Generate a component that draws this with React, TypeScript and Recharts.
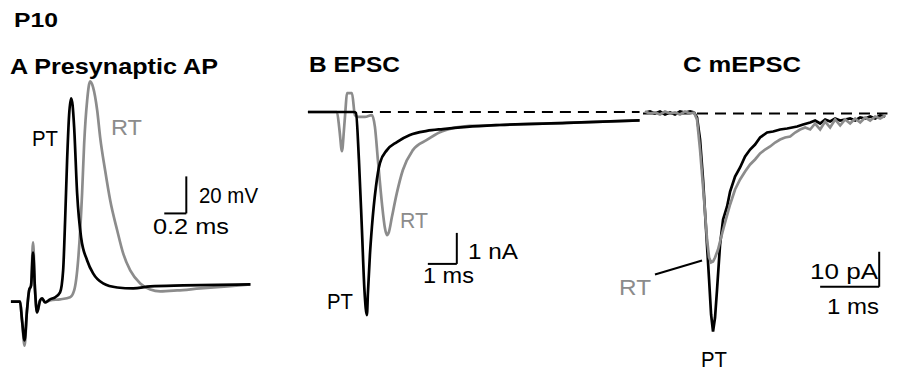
import { LineChart, Line, XAxis, YAxis, ReferenceLine } from 'recharts';

// Panel A: presynaptic AP, time in ms, membrane potential in mV
const apPT = [
  [-0.01, -60.6], [0.073, -60.6], [0.091, -70.8], [0.114, -81.6], [0.136, -65.4], [0.155, -54.6],
  [0.173, -51.9], [0.191, -34.1], [0.209, -54.6], [0.227, -66.5], [0.255, -60], [0.273, -58.9],
  [0.3, -61.1], [0.345, -59.4], [0.391, -58.3], [0.436, -55.7], [0.464, -43.8], [0.482, -16.7],
  [0.5, 15.6], [0.518, 40.0], [0.536, 49.2], [0.55, 45.4], [0.564, 33.5], [0.591, -2.2],
  [0.627, -26.0], [0.682, -38.4], [0.736, -45.4], [0.827, -50.8], [0.955, -53.0], [1.1, -53.5],
  [1.255, -52.4], [1.555, -51.9], [2.164, -51.3],
];
const apRT = [
  [-0.01, -60.6], [0.073, -60.6], [0.091, -70.8], [0.114, -84.4], [0.136, -65.4], [0.155, -54.6],
  [0.173, -51.9], [0.191, -28.6], [0.209, -54.6], [0.227, -66.5], [0.255, -60], [0.273, -58.9],
  [0.3, -61.1], [0.345, -60], [0.436, -59.4], [0.527, -58.3], [0.564, -54.6], [0.6, -38.4],
  [0.636, -2.2], [0.655, 24.9], [0.682, 48.1], [0.709, 58.3], [0.736, 55.1], [0.773, 42.7],
  [0.8, 28.1], [0.845, 10.3], [0.891, -5.9], [0.955, -22.2], [1.009, -34.6], [1.073, -43.8],
  [1.164, -50.8], [1.255, -54.1], [1.345, -55.1], [1.5, -54.6], [1.709, -53.5], [1.955, -52.4],
  [2.164, -51.3],
];

// Panel B: EPSC, time in ms, current in nA
const epscPT = [
  [0.103, 0], [1.69, 0], [1.759, -0.03], [1.862, -1.55], [1.966, -3.81], [2.052, -5.74],
  [2.138, -6.55], [2.172, -5.84], [2.241, -4.61], [2.31, -3.71], [2.448, -2.42], [2.586, -1.65],
  [2.828, -1.23], [3.172, -0.97], [3.621, -0.74], [4.207, -0.61], [4.759, -0.55], [5.586, -0.48],
  [6.724, -0.42], [9.034, -0.35], [11.552, -0.27],
];
const epscRT = [
  [0.103, 0], [1.103, 0], [1.19, -0.58], [1.276, -1.26], [1.345, -0.58], [1.397, 0.06],
  [1.448, 0.61], [1.621, 0.61], [1.724, -0.1], [1.828, -0.16], [2.069, -0.16], [2.31, -0.1],
  [2.414, -0.48], [2.517, -1.55], [2.655, -2.94], [2.759, -3.74], [2.828, -3.97], [2.897, -3.87],
  [3.0, -3.39], [3.172, -2.61], [3.379, -1.87], [3.724, -1.23], [4.207, -0.9], [4.655, -0.65],
  [5.103, -0.52], [5.69, -0.45], [6.724, -0.42], [9.034, -0.35], [11.552, -0.27],
];

// Panel C: mEPSC, time in ms, current in pA
const mepscPT = [
  [0.034, 0.29], [0.119, 0.57], [0.203, 0], [0.288, 0.57], [0.373, -0.29], [0.458, 0.29],
  [0.542, -0.29], [0.627, 0.57], [0.712, 0.29], [0.797, 0.57], [0.864, 0.29], [0.915, -1.14],
  [0.966, -7.43], [1.017, -18.86], [1.068, -33.14], [1.119, -47.43], [1.153, -57.43], [1.186, -62.29],
  [1.22, -58.29], [1.254, -50.29], [1.305, -37.43], [1.356, -30.29], [1.424, -26.57], [1.475, -22.29],
  [1.559, -18], [1.644, -15.43], [1.729, -12.29], [1.814, -10.29], [1.898, -8.86], [1.983, -6.86],
  [2.102, -5.43], [2.203, -5.14], [2.322, -4.57], [2.441, -4.29], [2.61, -3.71], [2.712, -3.14],
  [2.831, -2.57], [2.915, -2], [3.0, -2.86], [3.085, -1.71], [3.169, -2.29], [3.254, -1.43],
  [3.339, -2], [3.424, -1.71], [3.508, -1.43], [3.593, -2], [3.678, -1.14], [3.763, -1.43],
  [3.847, -0.86], [3.932, -1.43], [4.017, -0.57], [4.102, -0.86],
];
const mepscRT = [
  [0.034, 0.57], [0.119, 0], [0.203, 0.29], [0.288, -0.29], [0.373, 0.57], [0.458, 0],
  [0.542, 0.29], [0.627, -0.29], [0.712, 0.57], [0.797, 0], [0.864, 0.29], [0.915, -1.71],
  [0.966, -10.29], [1.034, -24.57], [1.085, -36], [1.119, -41.14], [1.153, -42.57], [1.186, -42.29],
  [1.22, -41.14], [1.271, -38.86], [1.322, -35.43], [1.39, -31.14], [1.475, -26], [1.559, -21.71],
  [1.644, -18.86], [1.729, -16.57], [1.814, -14.57], [1.898, -13.14], [1.983, -11.43], [2.068, -10.29],
  [2.153, -9.43], [2.237, -8.29], [2.322, -7.43], [2.407, -6.86], [2.492, -6.57], [2.576, -5.43],
  [2.661, -4.57], [2.746, -4], [2.831, -4.57], [2.915, -2.86], [3.0, -4.57], [3.085, -2.29],
  [3.169, -4], [3.254, -1.71], [3.339, -3.43], [3.424, -1.71], [3.508, -2.86], [3.593, -1.43],
  [3.678, -2.57], [3.763, -1.14], [3.847, -2], [3.932, -0.86], [4.017, -1.43], [4.102, -0.57],
];

// scale bars: corner point plus size, in data units
const scaleA = { x: 1.582, y: -13, dx: 0.2, dy: 20 };
const scaleB = { x: 5.241, y: -4.9, dx: 1, dy: 1 };
const scaleC = { x: 4.0, y: -49.5, dx: 1, dy: 10 };
const pointerC = [[0.203, -46], [1.0, -42]];

const BLACK = '#000';
const GRAY = '#8c8c8c';
const FONT = '"Liberation Sans", Arial, Helvetica, sans-serif';

const toPts = (arr: number[][]) => arr.map(([t, v]) => ({ t, v }));

const lineProps = {
  dataKey: 'v',
  dot: false,
  activeDot: false,
  isAnimationActive: false,
  strokeWidth: 2.7,
  type: 'monotone' as const,
};

function scaleLines(s: { x: number; y: number; dx: number; dy: number }, key: string) {
  return [
    <ReferenceLine key={key + 'h'} segment={[{ x: s.x - s.dx, y: s.y }, { x: s.x, y: s.y }]} stroke={BLACK} strokeWidth={2} ifOverflow="visible" />,
    <ReferenceLine key={key + 'v'} segment={[{ x: s.x, y: s.y }, { x: s.x, y: s.y + s.dy }]} stroke={BLACK} strokeWidth={2} ifOverflow="visible" />,
  ];
}

const labels = [
  { text: 'P10', x: 14, y: 27, w: 44, size: 20, bold: true, color: BLACK },
  { text: 'A Presynaptic AP', x: 10, y: 74, w: 208, size: 21.5, bold: true, color: BLACK },
  { text: 'B EPSC', x: 309, y: 72, w: 91, size: 21.5, bold: true, color: BLACK },
  { text: 'C mEPSC', x: 683, y: 72, w: 118, size: 21.5, bold: true, color: BLACK },
  { text: 'PT', x: 32, y: 146, w: 26, size: 22, bold: false, color: BLACK },
  { text: 'RT', x: 111, y: 135, w: 31, size: 22, bold: false, color: GRAY },
  { text: '20 mV', x: 199, y: 203, w: 59, size: 22, bold: false, color: BLACK },
  { text: '0.2 ms', x: 153, y: 234, w: 76, size: 22, bold: false, color: BLACK },
  { text: 'RT', x: 400, y: 228, w: 28, size: 22, bold: false, color: GRAY },
  { text: 'PT', x: 327, y: 309, w: 26, size: 22, bold: false, color: BLACK },
  { text: '1 nA', x: 468, y: 259, w: 50, size: 22, bold: false, color: BLACK },
  { text: '1 ms', x: 423, y: 283, w: 51, size: 22, bold: false, color: BLACK },
  { text: '10 pA', x: 810, y: 279, w: 68, size: 22, bold: false, color: BLACK },
  { text: '1 ms', x: 827, y: 314, w: 52, size: 22, bold: false, color: BLACK },
  { text: 'RT', x: 619, y: 295, w: 32, size: 22, bold: false, color: GRAY },
  { text: 'PT', x: 701, y: 367, w: 26, size: 22, bold: false, color: BLACK },
];

export default function App() {
  return (
    <div style={{ position: 'absolute', left: 0, top: 0, width: 899, height: 372, background: '#fff', overflow: 'hidden' }}>
      {/* A Presynaptic AP */}
      <div style={{ position: 'absolute', left: 1, top: 69 }}>
        <LineChart width={260} height={287} margin={{ top: 0, right: 0, bottom: 0, left: 0 }}>
          <XAxis type="number" dataKey="t" domain={[-0.1, 2.26]} hide allowDataOverflow />
          <YAxis type="number" domain={[-90, 65]} hide allowDataOverflow />
          <Line {...lineProps} data={toPts(apRT)} stroke={GRAY} />
          <Line {...lineProps} data={toPts(apPT)} stroke={BLACK} />
          {scaleLines(scaleA, 'a')}
        </LineChart>
      </div>

      {/* B EPSC */}
      <div style={{ position: 'absolute', left: 305, top: 81 }}>
        <LineChart width={336} height={248} margin={{ top: 0, right: 0, bottom: 0, left: 0 }}>
          <XAxis type="number" dataKey="t" domain={[0, 11.6]} hide allowDataOverflow />
          <YAxis type="number" domain={[-7, 1]} hide allowDataOverflow />
          <ReferenceLine segment={[{ x: 0.1, y: 0 }, { x: 11.55, y: 0 }]} stroke={BLACK} strokeWidth={2} strokeDasharray="11 7" />
          <Line {...lineProps} data={toPts(epscRT)} stroke={GRAY} />
          <Line {...lineProps} data={toPts(epscPT)} stroke={BLACK} />
          {scaleLines(scaleB, 'b')}
        </LineChart>
      </div>

      {/* C mEPSC */}
      <div style={{ position: 'absolute', left: 643, top: 96 }}>
        <LineChart width={248} height={245} margin={{ top: 0, right: 0, bottom: 0, left: 0 }}>
          <XAxis type="number" dataKey="t" domain={[0, 4.2]} hide allowDataOverflow />
          <YAxis type="number" domain={[-65, 5]} hide allowDataOverflow />
          <ReferenceLine segment={[{ x: 0, y: 0 }, { x: 4.14, y: 0 }]} stroke={BLACK} strokeWidth={2} strokeDasharray="11 7" />
          <Line {...lineProps} data={toPts(mepscPT)} stroke={BLACK} type="linear" />
          <Line {...lineProps} data={toPts(mepscRT)} stroke={GRAY} type="linear" />
          {scaleLines(scaleC, 'c')}
          <ReferenceLine
            segment={[{ x: pointerC[0][0], y: pointerC[0][1] }, { x: pointerC[1][0], y: pointerC[1][1] }]}
            stroke={BLACK}
            strokeWidth={2}
            ifOverflow="visible"
          />
        </LineChart>
      </div>

      <svg width={899} height={372} style={{ position: 'absolute', left: 0, top: 0, pointerEvents: 'none' }}>
        {labels.map((l, i) => (
          <text
            key={i}
            x={l.x}
            y={l.y}
            textLength={l.w}
            lengthAdjust="spacingAndGlyphs"
            style={{ fontFamily: FONT, fontSize: l.size, fontWeight: l.bold ? 700 : 400 }}
            fill={l.color}
          >
            {l.text}
          </text>
        ))}
      </svg>
    </div>
  );
}
